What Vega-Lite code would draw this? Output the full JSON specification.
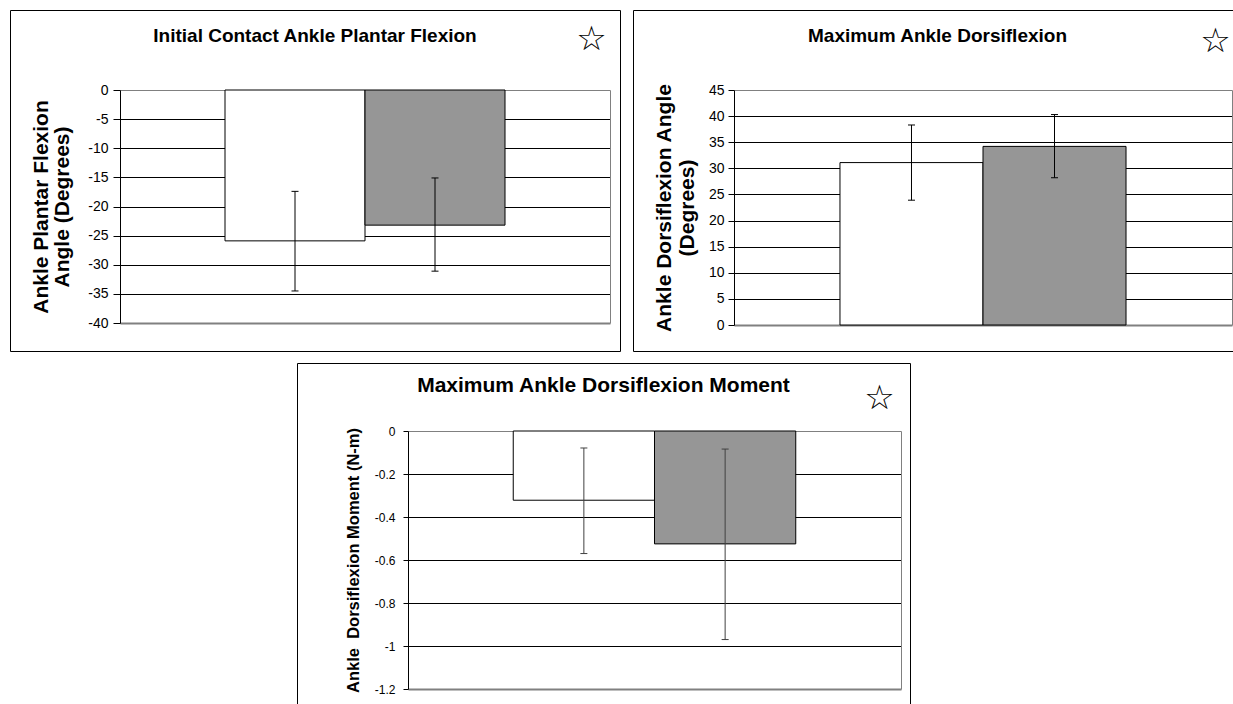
{
  "$schema": "https://vega.github.io/schema/vega-lite/v6.json",
  "background": "white",
  "padding": {"left": 9, "top": 9, "right": 0, "bottom": 0},
  "config": {
    "font": "Liberation Sans",
    "view": {"stroke": "#000", "strokeWidth": 1},
    "axis": {"domainColor": "#000", "tickColor": "#000", "labelColor": "#000", "titleColor": "#000", "labelFont": "Liberation Sans", "titleFont": "Liberation Sans", "titleFontWeight": "bold", "domainWidth": 1, "tickWidth": 1, "gridWidth": 1},
    "title": {"color": "#000"}
  },
  "vconcat": [
    {
      "hconcat": [
        {
          "width": 610, "height": 341,
          "title": {"text": "Initial Contact Ankle Plantar Flexion", "offset": -44.5, "baseline": "middle", "fontSize": 19, "fontWeight": "bold", "font": "Liberation Sans", "anchor": "middle", "frame": "group"},
          "data": {"values": [
            {"group": "A", "mean": -25.9, "lo": -34.5, "hi": -17.4},
            {"group": "B", "mean": -23.2, "lo": -31.1, "hi": -15.1}
          ]},
          "resolve": {"axis": {"x": "independent", "y": "independent"}},
          "layer": [
            {
              "mark": {"type": "bar", "stroke": "#000", "strokeWidth": 1},
              "encoding": {
                "x": {"field": "group", "type": "nominal", "scale": {"type": "band", "domain": ["A", "B"], "range": [110, 600], "paddingInner": 0, "paddingOuter": 0.75}, "axis": {"orient": "bottom", "offset": -28, "labels": false, "ticks": false, "title": null, "domainColor": "#808080", "domainWidth": 2, "grid": false}},
                "y": {"field": "mean", "type": "quantitative", "scale": {"domain": [-40, 0], "range": [313, 80], "nice": false, "zero": false}, "axis": {"orient": "left", "offset": -110, "values": [-40, -35, -30, -25, -20, -15, -10, -5, 0], "format": "~g", "labelExpr": "replace(datum.label, '\u2212', '-')", "grid": false, "tickSize": 7, "labelPadding": 5, "labelFontSize": 14, "title": ["Ankle Plantar Flexion", "Angle (Degrees)"], "titleFontSize": 21, "titleLineHeight": 21, "titlePadding": 15}},
                "fill": {"field": "group", "type": "nominal", "scale": {"domain": ["A", "B"], "range": ["#ffffff", "#969696"]}, "legend": null}
              }
            },
            {
              "mark": {"type": "rule", "color": "#000"},
              "encoding": {
                "x": {"field": "group", "type": "nominal", "axis": {"orient": "top", "offset": -80, "labels": false, "ticks": false, "grid": false, "domainColor": "#808080", "title": "☆", "titleFont": "DejaVu Sans", "titleFontSize": 34, "titleFontWeight": "normal", "titleX": 581, "titleAlign": "center", "titlePadding": 33.5}},
                "y": {"field": "lo", "type": "quantitative", "axis": {"orient": "right", "offset": -10, "labels": false, "ticks": false, "grid": false, "title": null, "domainColor": "#808080"}},
                "y2": {"field": "hi"}
              }
            },
            {
              "mark": {"type": "tick", "orient": "horizontal", "size": 7, "thickness": 1, "color": "#000", "opacity": 1},
              "encoding": {
                "x": {"field": "group", "type": "nominal", "axis": null},
                "y": {"field": "lo", "type": "quantitative", "axis": {"orient": "left", "values": [-35, -30, -25, -20, -15, -10, -5], "grid": true, "gridColor": "#000", "labels": false, "ticks": false, "domain": false, "title": null}}
              }
            },
            {
              "mark": {"type": "tick", "orient": "horizontal", "size": 7, "thickness": 1, "color": "#000", "opacity": 1},
              "encoding": {
                "x": {"field": "group", "type": "nominal", "axis": null},
                "y": {"field": "hi", "type": "quantitative", "axis": null}
              }
            }
          ]
        },
        {
          "width": 609, "height": 341,
          "title": {"text": "Maximum Ankle Dorsiflexion", "offset": -44.5, "baseline": "middle", "fontSize": 19, "fontWeight": "bold", "font": "Liberation Sans", "anchor": "middle", "frame": "group"},
          "data": {"values": [
            {"group": "A", "mean": 31.1, "lo": 23.9, "hi": 38.3},
            {"group": "B", "mean": 34.2, "lo": 28.2, "hi": 40.3}
          ]},
          "resolve": {"axis": {"x": "independent", "y": "independent"}},
          "layer": [
            {
              "mark": {"type": "bar", "stroke": "#000", "strokeWidth": 1},
              "encoding": {
                "x": {"field": "group", "type": "nominal", "scale": {"type": "band", "domain": ["A", "B"], "range": [101, 599], "paddingInner": 0, "paddingOuter": 0.741}, "axis": {"orient": "bottom", "offset": -26, "labels": false, "ticks": false, "title": null, "domainColor": "#808080", "domainWidth": 2, "grid": false}},
                "y": {"field": "mean", "type": "quantitative", "scale": {"domain": [0, 45], "range": [315, 80], "nice": false, "zero": false}, "axis": {"orient": "left", "offset": -101, "values": [0, 5, 10, 15, 20, 25, 30, 35, 40, 45], "format": "~g", "grid": false, "tickSize": 6, "labelPadding": 4, "labelFontSize": 14, "title": ["Ankle Dorsiflexion Angle", "(Degrees)"], "titleFontSize": 21, "titleLineHeight": 23, "titlePadding": 11}},
                "fill": {"field": "group", "type": "nominal", "scale": {"domain": ["A", "B"], "range": ["#ffffff", "#969696"]}, "legend": null}
              }
            },
            {
              "mark": {"type": "rule", "color": "#000"},
              "encoding": {
                "x": {"field": "group", "type": "nominal", "axis": {"orient": "top", "offset": -80, "labels": false, "ticks": false, "grid": false, "domainColor": "#808080", "title": "☆", "titleFont": "DejaVu Sans", "titleFontSize": 34, "titleFontWeight": "normal", "titleX": 582, "titleAlign": "center", "titlePadding": 32}},
                "y": {"field": "lo", "type": "quantitative", "axis": {"orient": "right", "offset": -10, "labels": false, "ticks": false, "grid": false, "title": null, "domainColor": "#808080"}},
                "y2": {"field": "hi"}
              }
            },
            {
              "mark": {"type": "tick", "orient": "horizontal", "size": 7, "thickness": 1, "color": "#000", "opacity": 1},
              "encoding": {
                "x": {"field": "group", "type": "nominal", "axis": null},
                "y": {"field": "lo", "type": "quantitative", "axis": {"orient": "left", "values": [5, 10, 15, 20, 25, 30, 35, 40], "grid": true, "gridColor": "#000", "labels": false, "ticks": false, "domain": false, "title": null}}
              }
            },
            {
              "mark": {"type": "tick", "orient": "horizontal", "size": 7, "thickness": 1, "color": "#000", "opacity": 1},
              "encoding": {
                "x": {"field": "group", "type": "nominal", "axis": null},
                "y": {"field": "hi", "type": "quantitative", "axis": null}
              }
            }
          ]
        }
      ],
      "spacing": 11
    },
    {
      "hconcat": [
        {
          "width": 276, "height": 10,
          "view": {"stroke": null},
          "data": {"values": [{"v": 0}]},
          "mark": {"type": "point", "opacity": 0},
          "encoding": {}
        },
        {
          "width": 613, "height": 346,
          "title": {"text": "Maximum Ankle Dorsiflexion Moment", "offset": -44, "baseline": "middle", "fontSize": 21, "fontWeight": "bold", "font": "Liberation Sans", "anchor": "middle", "frame": "group"},
          "data": {"values": [
            {"group": "A", "mean": -0.322, "lo": -0.57, "hi": -0.079},
            {"group": "B", "mean": -0.525, "lo": -0.97, "hi": -0.084}
          ]},
          "resolve": {"axis": {"x": "independent", "y": "independent"}},
          "layer": [
            {
              "mark": {"type": "bar", "stroke": "#000", "strokeWidth": 1},
              "encoding": {
                "x": {"field": "group", "type": "nominal", "scale": {"type": "band", "domain": ["A", "B"], "range": [111, 604], "paddingInner": 0, "paddingOuter": 0.745}, "axis": {"orient": "bottom", "offset": -20, "labels": false, "ticks": false, "title": null, "domainColor": "#808080", "domainWidth": 2, "grid": false}},
                "y": {"field": "mean", "type": "quantitative", "scale": {"domain": [-1.2, 0], "range": [326, 68], "nice": false, "zero": false}, "axis": {"orient": "left", "offset": -111, "values": [-1.2, -1, -0.8, -0.6, -0.4, -0.2, 0], "format": "~g", "labelExpr": "replace(datum.label, '\u2212', '-')", "grid": false, "tickSize": 5, "labelPadding": 8, "labelFontSize": 12, "title": "Ankle\u00a0 Dorsiflexion Moment (N-m)", "titleFontSize": 16.5, "titlePadding": 13}},
                "fill": {"field": "group", "type": "nominal", "scale": {"domain": ["A", "B"], "range": ["#ffffff", "#969696"]}, "legend": null}
              }
            },
            {
              "mark": {"type": "rule", "color": "#404040"},
              "encoding": {
                "x": {"field": "group", "type": "nominal", "axis": {"orient": "top", "offset": -68, "labels": false, "ticks": false, "grid": false, "domainColor": "#808080", "title": "☆", "titleFont": "DejaVu Sans", "titleFontSize": 34, "titleFontWeight": "normal", "titleX": 582, "titleAlign": "center", "titlePadding": 16}},
                "y": {"field": "lo", "type": "quantitative", "axis": {"orient": "right", "offset": -9, "labels": false, "ticks": false, "grid": false, "title": null, "domainColor": "#808080"}},
                "y2": {"field": "hi"}
              }
            },
            {
              "mark": {"type": "tick", "orient": "horizontal", "size": 7, "thickness": 1, "color": "#404040", "opacity": 1},
              "encoding": {
                "x": {"field": "group", "type": "nominal", "axis": null},
                "y": {"field": "lo", "type": "quantitative", "axis": {"orient": "left", "values": [-1, -0.8, -0.6, -0.4, -0.2], "grid": true, "gridColor": "#000", "labels": false, "ticks": false, "domain": false, "title": null}}
              }
            },
            {
              "mark": {"type": "tick", "orient": "horizontal", "size": 7, "thickness": 1, "color": "#404040", "opacity": 1},
              "encoding": {
                "x": {"field": "group", "type": "nominal", "axis": null},
                "y": {"field": "hi", "type": "quantitative", "axis": null}
              }
            }
          ]
        }
      ],
      "spacing": 10
    }
  ],
  "spacing": 10
}
